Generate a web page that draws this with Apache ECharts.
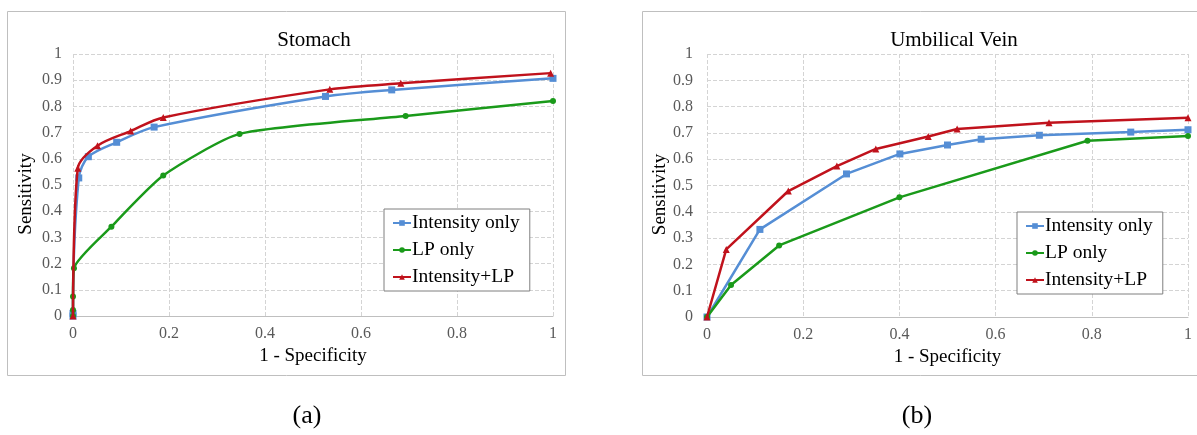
<!DOCTYPE html>
<html>
<head>
<meta charset="utf-8">
<script src="https://cdn.jsdelivr.net/npm/echarts@6/dist/echarts.min.js"></script>
<style>
  html, body { margin: 0; padding: 0; background: #fff; }
  #main { width: 1197px; height: 435px; }
</style>
</head>
<body>
<div id="main"></div>
<script>
// ROC points, [1 - specificity, sensitivity]
const stomachIntensity = [[0, 0], [0, 0.01], [0.012, 0.527], [0.032, 0.608], [0.091, 0.663], [0.169, 0.721], [0.526, 0.838], [0.664, 0.863], [1.0, 0.907]];
const stomachLP = [[0, 0], [0, 0.023], [0, 0.074], [0.002, 0.182], [0.08, 0.341], [0.188, 0.536], [0.347, 0.695], [0.693, 0.763], [1.0, 0.821]];
const stomachBoth = [[0, 0], [0.01, 0.564], [0.051, 0.65], [0.12, 0.706], [0.188, 0.758], [0.535, 0.865], [0.683, 0.888], [0.995, 0.927]];

const veinIntensity = [[0, 0], [0.11, 0.333], [0.29, 0.544], [0.401, 0.62], [0.5, 0.654], [0.57, 0.676], [0.691, 0.691], [0.881, 0.703], [1.0, 0.712]];
const veinLP = [[0, 0], [0.05, 0.122], [0.15, 0.272], [0.4, 0.455], [0.791, 0.67], [1.0, 0.688]];
const veinBoth = [[0, 0], [0.04, 0.257], [0.169, 0.479], [0.27, 0.574], [0.351, 0.639], [0.46, 0.686], [0.52, 0.715], [0.711, 0.739], [1.0, 0.758]];

const seriesNames = ["Intensity only", "LP only", "Intensity+LP"];
const panelTitles = ["Stomach", "Umbilical Vein"];
const captions = ["(a)", "(b)"];

const FONT = "Liberation Serif, Times New Roman, serif";
const colors = ["#558ed5", "#1a9a1a", "#c0121c"];
const symbols = ["rect", "circle", "triangle"];

const chart = echarts.init(document.getElementById("main"));

function xAxisFor(gridIndex, margin) {
  return {
    gridIndex,
    type: "value",
    min: 0,
    max: 1,
    interval: 0.2,
    name: "1 - Specificity",
    nameLocation: "middle",
    nameGap: 31,
    nameTextStyle: { fontFamily: FONT, fontSize: 19, color: "#000" },
    axisLine: { show: true, lineStyle: { color: "#bfbfbf", width: 1 } },
    axisTick: { show: false },
    axisLabel: { fontFamily: FONT, fontSize: 16, color: "#595959", margin: margin },
    splitLine: { show: true, lineStyle: { type: "dashed", color: "#d4d4d4" } },
  };
}

function yAxisFor(gridIndex, margin, nameGap) {
  return {
    gridIndex,
    type: "value",
    min: 0,
    max: 1,
    interval: 0.1,
    name: "Sensitivity",
    nameLocation: "middle",
    nameGap: nameGap,
    // extra right padding pushes the rotated name a bit lower, as in the original
    nameTextStyle: { fontFamily: FONT, fontSize: 19, color: "#000", padding: [0, 18, 0, 0] },
    axisLine: { show: false },
    axisTick: { show: false },
    axisLabel: { fontFamily: FONT, fontSize: 16, color: "#595959", margin: margin },
    splitLine: { show: true, lineStyle: { type: "dashed", color: "#d4d4d4" } },
  };
}

function lineSeries(i, idx, data, smooth) {
  return {
    name: seriesNames[i],
    type: "line",
    xAxisIndex: idx,
    yAxisIndex: idx,
    data: data,
    smooth: smooth,
    symbol: symbols[i],
    symbolSize: i === 1 ? 6 : 7,
    showAllSymbol: true,
    color: colors[i],
    lineStyle: { width: 2.5, color: colors[i] },
    itemStyle: { color: colors[i] },
    animation: false,
    z: 3 + i,
  };
}

function legendFor(left, top) {
  return {
    left: left,
    top: top,
    orient: "vertical",
    data: seriesNames,
    backgroundColor: "#fff",
    borderColor: "#7f7f7f",
    borderWidth: 1,
    borderRadius: 0,
    padding: [4, 10, 4, 8],
    itemGap: 7,
    itemWidth: 18,
    itemHeight: 7,
    selectedMode: false,
    textStyle: { fontFamily: FONT, fontSize: 19.5, color: "#000", padding: [0, 0, 0, -4] },
  };
}

chart.setOption({
  backgroundColor: "#fff",
  graphic: [
    { type: "rect", shape: { x: 7.5, y: 11.5, width: 558, height: 364 }, style: { fill: "none", stroke: "#bfbfbf", lineWidth: 1 }, silent: true },
    { type: "rect", shape: { x: 642.5, y: 11.5, width: 560, height: 364 }, style: { fill: "none", stroke: "#bfbfbf", lineWidth: 1 }, silent: true },
  ],
  title: [
    { text: panelTitles[0], left: 309, top: 25, textAlign: "center", textStyle: { fontFamily: FONT, fontSize: 21, fontWeight: "normal", color: "#000" } },
    { text: panelTitles[1], left: 949, top: 25, textAlign: "center", textStyle: { fontFamily: FONT, fontSize: 21, fontWeight: "normal", color: "#000" } },
    { text: captions[0], left: 302, top: 398, textAlign: "center", textStyle: { fontFamily: FONT, fontSize: 26, fontWeight: "normal", color: "#000" } },
    { text: captions[1], left: 912, top: 398, textAlign: "center", textStyle: { fontFamily: FONT, fontSize: 26, fontWeight: "normal", color: "#000" } },
  ],
  legend: [legendFor(384, 209), legendFor(1017, 212)],
  grid: [
    { left: 73, top: 54, width: 480, height: 262 },
    { left: 707, top: 54, width: 481, height: 263 },
  ],
  xAxis: [xAxisFor(0, 10), xAxisFor(1, 10)],
  yAxis: [yAxisFor(0, 11, 37), yAxisFor(1, 14, 33)],
  series: [
    lineSeries(0, 0, stomachIntensity, 0.3),
    lineSeries(1, 0, stomachLP, 0.2),
    lineSeries(2, 0, stomachBoth, 0.3),
    lineSeries(0, 1, veinIntensity, false),
    lineSeries(1, 1, veinLP, false),
    lineSeries(2, 1, veinBoth, false),
  ],
});
</script>
</body>
</html>
